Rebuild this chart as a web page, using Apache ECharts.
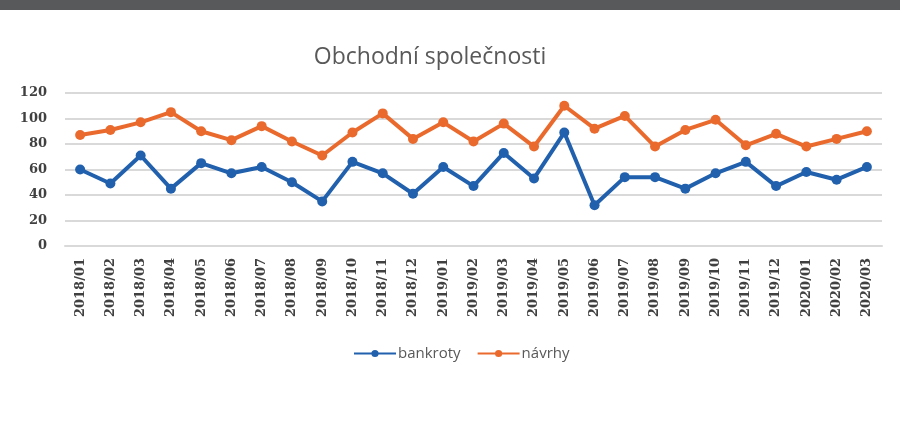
<!DOCTYPE html>
<html>
<head>
<meta charset="utf-8">
<script src="https://cdn.jsdelivr.net/npm/echarts@6/dist/echarts.min.js"></script>
<style>
html,body{margin:0;padding:0;background:#fff;}
#c{width:900px;height:427px;}
</style>
</head>
<body>
<div id="c"></div>
<script>
const categories = ['2018/01','2018/02','2018/03','2018/04','2018/05','2018/06','2018/07','2018/08','2018/09','2018/10','2018/11','2018/12',
  '2019/01','2019/02','2019/03','2019/04','2019/05','2019/06','2019/07','2019/08','2019/09','2019/10','2019/11','2019/12',
  '2020/01','2020/02','2020/03'];
const bankroty = [60,49,71,45,65,57,62,50,35,66,57,41,62,47,73,53,89,32,54,54,45,57,66,47,58,52,62];
const navrhy = [87,91,97,105,90,83,94,82,71,89,104,84,97,82,96,78,110,92,102,78,91,99,79,88,78,84,90];
const yTicks = [0,20,40,60,80,100,120];

const chart = echarts.init(document.getElementById('c'), null, {renderer:'canvas'});
chart.setOption({
  animation:false,
  backgroundColor:'#ffffff',
  graphic:[{type:'rect', left:0, top:0, shape:{width:900, height:10}, style:{fill:'#58595b'}}],
  title:{
    text:'Obchodní společnosti',
    left:425, top:41, textAlign:'center',
    textStyle:{fontFamily:'Open Sans', fontWeight:'normal', fontSize:23, color:'#595959'}
  },
  legend:{
    data:['bankroty','návrhy'],
    left:348, top:341,
    itemWidth:42, itemHeight:9, itemGap:16,
    textStyle:{fontFamily:'Open Sans', fontSize:15, color:'#595959', padding:[0,0,0,-3]}
  },
  grid:{left:65, right:18, top:93, bottom:181, containLabel:false},
  xAxis:{
    type:'category', data:categories, boundaryGap:true,
    axisLine:{show:true, lineStyle:{color:'#d9d9d9', width:2}},
    axisTick:{show:false},
    axisLabel:{rotate:90, margin:12, interval:0, fontFamily:'DejaVu Serif', fontWeight:'bold', fontSize:13, color:'#404040'}
  },
  yAxis:{
    type:'value', min:yTicks[0], max:yTicks[yTicks.length-1], interval:20,
    axisLine:{show:false}, axisTick:{show:false},
    splitLine:{lineStyle:{color:'#d9d9d9', width:2}},
    axisLabel:{margin:18, fontFamily:'DejaVu Serif', fontWeight:'bold', fontSize:13, color:'#404040'}
  },
  series:[
    {name:'bankroty', type:'line', data:bankroty, symbol:'circle', symbolSize:10,
     lineStyle:{color:'#2160ad', width:4}, itemStyle:{color:'#2160ad'}},
    {name:'návrhy', type:'line', data:navrhy, symbol:'circle', symbolSize:10,
     lineStyle:{color:'#ea6a2d', width:4}, itemStyle:{color:'#ea6a2d'}}
  ]
});
</script>
</body>
</html>
